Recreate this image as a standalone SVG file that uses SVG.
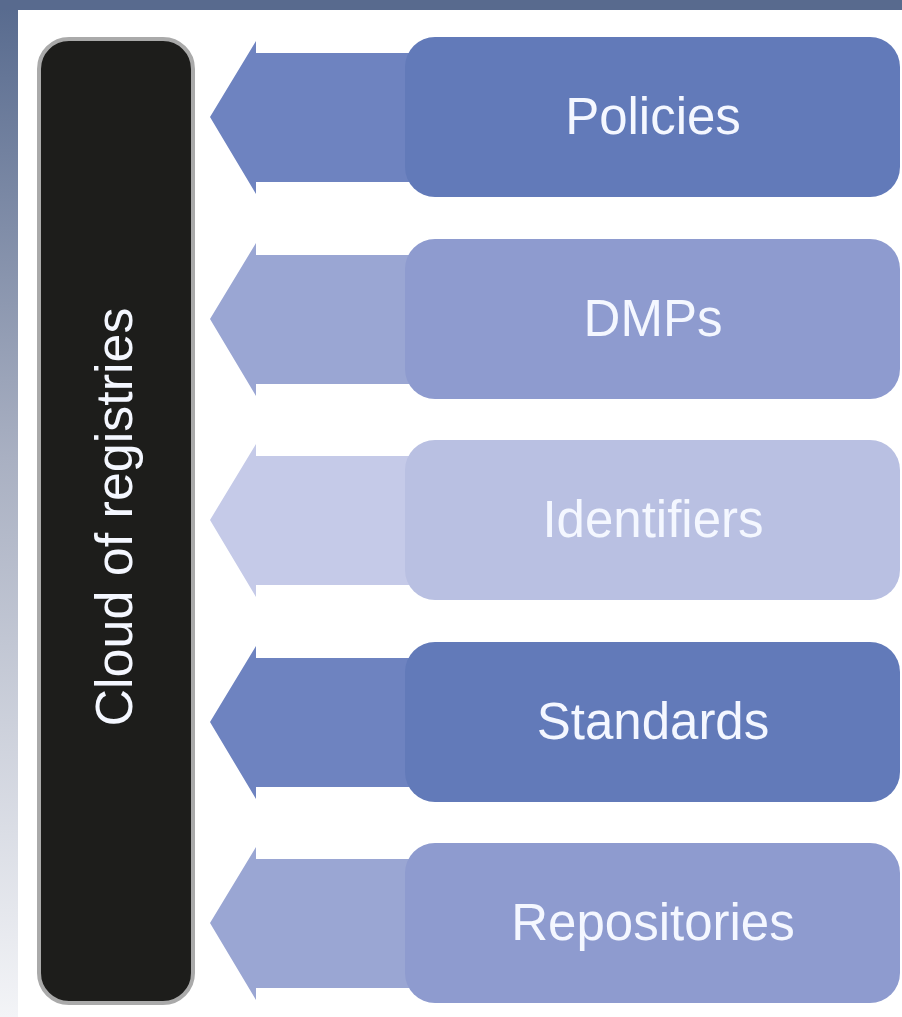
<svg xmlns="http://www.w3.org/2000/svg" width="902" height="1017" viewBox="0 0 902 1017">
<defs>
<linearGradient id="lg" x1="0" y1="0" x2="0" y2="1">
<stop offset="0" stop-color="#576a8e"/>
<stop offset="0.45" stop-color="#a9b0c2"/>
<stop offset="1" stop-color="#f3f4f7"/>
</linearGradient>
<style>
.lbl{font-family:"Liberation Sans",Arial,sans-serif;font-size:51px;fill:#f4f7ff;text-anchor:middle}
.a1{fill:#6e83c0}.b1{fill:#627ab9}
.a2{fill:#9aa6d3}.b2{fill:#8e9bcf}
.a3{fill:#c5cae8}.b3{fill:#b9c0e2}
</style>
</defs>
<rect x="0" y="0" width="902" height="1017" fill="#ffffff"/>
<rect x="0" y="0" width="18" height="1017" fill="url(#lg)"/>
<rect x="0" y="0" width="902" height="10" fill="#586a8e"/>
<g id="cloud">
<rect x="39" y="39" width="154" height="964" rx="30" fill="#1d1d1b" stroke="#aaaaaa" stroke-width="4"/>
<text class="lbl" transform="translate(132,517) rotate(-90)" x="0" y="0" style="font-size:52px">Cloud of registries</text>
</g>
<g id="connectors">
<polygon class="a1" points="210,117 256,41 256,53 420,53 420,182 256,182 256,194"/>
<polygon class="a2" points="210,319 256,243 256,255 420,255 420,384 256,384 256,396"/>
<polygon class="a3" points="210,520 256,444 256,456 420,456 420,585 256,585 256,597"/>
<polygon class="a1" points="210,722 256,646 256,658 420,658 420,787 256,787 256,799"/>
<polygon class="a2" points="210,923 256,847 256,859 420,859 420,988 256,988 256,1000"/>
</g>
<g id="policies">
<rect class="b1" x="405" y="37" width="495" height="160" rx="30"/>
<text class="lbl" x="653" y="134">Policies</text>
</g>
<g id="dmps">
<rect class="b2" x="405" y="239" width="495" height="160" rx="30"/>
<text class="lbl" x="653" y="336">DMPs</text>
</g>
<g id="identifiers">
<rect class="b3" x="405" y="440" width="495" height="160" rx="30"/>
<text class="lbl" x="653" y="537">Identifiers</text>
</g>
<g id="standards">
<rect class="b1" x="405" y="642" width="495" height="160" rx="30"/>
<text class="lbl" x="653" y="739">Standards</text>
</g>
<g id="repositories">
<rect class="b2" x="405" y="843" width="495" height="160" rx="30"/>
<text class="lbl" x="653" y="940">Repositories</text>
</g>
</svg>
